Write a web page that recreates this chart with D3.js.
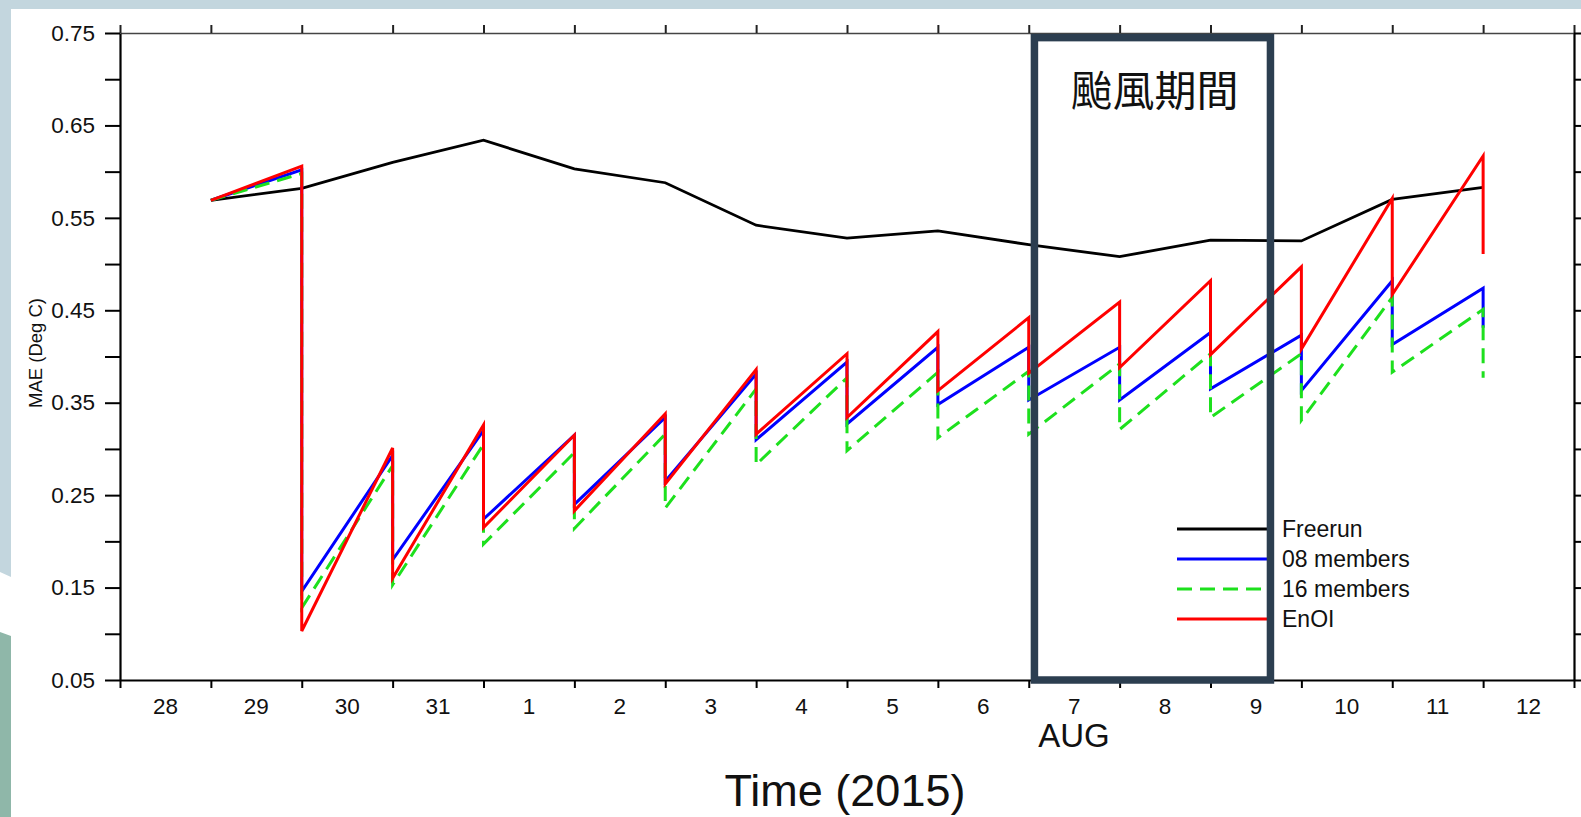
<!DOCTYPE html>
<html>
<head>
<meta charset="utf-8">
<script src="https://cdn.jsdelivr.net/npm/d3@7"></script>
<style>
body { margin:0; background:#fff; }
svg text { font-family: "Liberation Sans", Arial, sans-serif; fill:#111; }
</style>
</head>
<body>
<div id="vis"></div>
<script>
// values (daily, 00 UTC)
var days = ["2015-07-29","2015-07-30","2015-07-31","2015-08-01","2015-08-02","2015-08-03","2015-08-04",
            "2015-08-05","2015-08-06","2015-08-07","2015-08-08","2015-08-09","2015-08-10","2015-08-11","2015-08-12"];
var dayLabels = ["28","29","30","31","1","2","3","4","5","6","7","8","9","10","11","12"];

var freerun = [0.569,0.582,0.610,0.634,0.603,0.588,0.542,0.528,0.536,0.521,0.508,0.526,0.525,0.570,0.583];

// forecast (before analysis) and analysis (after) for each day
var m08Fc  = [0.569,0.602,0.293,0.320,0.315,0.334,0.381,0.394,0.410,0.410,0.410,0.426,0.423,0.482,0.474];
var m08An  = [0.569,0.146,0.180,0.224,0.240,0.265,0.310,0.327,0.348,0.353,0.353,0.365,0.363,0.413,0.431];
var m16Fc  = [0.569,0.598,0.282,0.305,0.296,0.316,0.365,0.377,0.383,0.384,0.392,0.403,0.403,0.464,0.451];
var m16An  = [0.569,0.128,0.153,0.197,0.214,0.236,0.283,0.298,0.312,0.316,0.321,0.334,0.331,0.383,0.377];
var enoiFc = [0.569,0.606,0.301,0.326,0.315,0.338,0.386,0.403,0.427,0.442,0.459,0.482,0.497,0.571,0.617];
var enoiAn = [0.569,0.103,0.160,0.215,0.233,0.262,0.316,0.334,0.363,0.382,0.388,0.402,0.408,0.467,0.511];

var seriesNames = ["Freerun","08 members","16 members","EnOI"];
var typhoon = ["2015-08-07T01:30:00Z","2015-08-09T15:50:00Z"];

var W = 1581, H = 817;
var parse = d3.utcParse("%Y-%m-%d");
var parseIso = d3.isoParse;

var svg = d3.select("#vis")
			.append("svg")
			.attr("width", W)
			.attr("height", H);

// slide background around the figure
svg.append("rect").attr("width", W).attr("height", H).attr("fill", "#fff");
svg.append("path").attr("d", "M0,0H1581V9H11V577L0,572Z").attr("fill", "#c3d6de");
svg.append("path").attr("d", "M0,632L11,636V817H0Z").attr("fill", "#8fb7a9");

var x = d3.scaleUtc()
	.domain([parse("2015-07-28"), parse("2015-08-13")])
	.range([120, 1574]);

var y = d3.scaleLinear()
	.domain([0.05, 0.75])
	.range([680, 33]);

var dayTicks = d3.utcDay.range(parse("2015-07-28"), d3.utcDay.offset(parse("2015-08-13"), 1));
var yTicks = d3.range(1, 16).map(function(i) { return +(i * 0.05).toFixed(2); });

// axes
var gBottom = svg.append("g").attr("transform", "translate(0,680)")
	.call(d3.axisBottom(x).tickValues(dayTicks).tickSize(8).tickSizeOuter(0).tickFormat(""));
var gTop = svg.append("g").attr("transform", "translate(0,33)")
	.call(d3.axisTop(x).tickValues(dayTicks).tickSize(8).tickSizeOuter(0).tickFormat(""));
var gLeft = svg.append("g").attr("transform", "translate(120,0)")
	.call(d3.axisLeft(y).tickValues(yTicks).tickSize(15).tickSizeOuter(0).tickPadding(10)
		.tickFormat(function(d) { return Math.round(d * 100) % 10 == 5 ? d3.format(".2f")(d) : ""; }));
var gRight = svg.append("g").attr("transform", "translate(1574,0)")
	.call(d3.axisRight(y).tickValues(yTicks).tickSize(7).tickSizeOuter(0).tickFormat(""));

[gBottom, gLeft, gRight].forEach(function(g) {
	g.select(".domain").attr("stroke", "#000").attr("stroke-width", 2.2);
	g.selectAll(".tick line").attr("stroke", "#000").attr("stroke-width", 2);
});
gTop.select(".domain").attr("stroke", "#444").attr("stroke-width", 1.6);
gTop.selectAll(".tick line").attr("stroke", "#222").attr("stroke-width", 2);

gLeft.selectAll(".tick text")
	.attr("font-size", "22.5px")
	.attr("font-family", "Liberation Sans, Arial, sans-serif")
	.attr("fill", "#111");

// day labels sit in the middle of each day
svg.append("g").selectAll("text")
	.data(dayLabels)
	.enter()
	.append("text")
	.attr("x", function(d, i) { return x(d3.utcHour.offset(dayTicks[i], 12)); })
	.attr("y", 714)
	.attr("text-anchor", "middle")
	.attr("font-size", "22.5px")
	.text(function(d) { return d; });

// build sawtooth series: forecast then analysis at each day
function sawtooth(fc, an) {
	var pts = [];
	days.forEach(function(d, i) {
		pts.push({date: parse(d), value: fc[i]});
		pts.push({date: parse(d), value: an[i]});
	});
	return pts;
}

var series = [
	{name: seriesNames[0], color: "#000", dash: null, width: 2.8,
	 values: days.map(function(d, i) { return {date: parse(d), value: freerun[i]}; })},
	{name: seriesNames[1], color: "#0000ff", dash: null, width: 3, values: sawtooth(m08Fc, m08An)},
	{name: seriesNames[2], color: "#1de01d", dash: "15,8", width: 3, values: sawtooth(m16Fc, m16An)},
	{name: seriesNames[3], color: "#ff0000", dash: null, width: 3, values: sawtooth(enoiFc, enoiAn)}
];

var line = d3.line()
	.x(function(d) { return x(d.date); })
	.y(function(d) { return y(d.value); });

svg.append("g").selectAll("path")
	.data(series)
	.enter()
	.append("path")
	.attr("d", function(d) { return line(d.values); })
	.attr("fill", "none")
	.attr("stroke", function(d) { return d.color; })
	.attr("stroke-width", function(d) { return d.width; })
	.attr("stroke-dasharray", function(d) { return d.dash; })
	.attr("stroke-linejoin", "miter");

// legend
var legend = svg.append("g").attr("class", "legend");
var leg = legend.selectAll("g")
	.data(series)
	.enter()
	.append("g")
	.attr("transform", function(d, i) { return "translate(0," + (529 + i * 30) + ")"; });
leg.append("line")
	.attr("x1", 1177).attr("x2", 1268)
	.attr("stroke", function(d) { return d.color; })
	.attr("stroke-width", 3)
	.attr("stroke-dasharray", function(d) { return d.dash; });
leg.append("text")
	.attr("x", 1282)
	.attr("y", 7.5)
	.attr("font-size", "23px")
	.text(function(d) { return d.name; });

// typhoon period box
var bx0 = x(parseIso(typhoon[0])), bx1 = x(parseIso(typhoon[1]));
svg.append("rect")
	.attr("x", bx0)
	.attr("y", y(0.745))
	.attr("width", bx1 - bx0)
	.attr("height", y(0.05) - y(0.745))
	.attr("fill", "none")
	.attr("stroke", "#2c3e50")
	.attr("stroke-width", 7.5);
svg.append("text")
	.attr("x", (bx0 + bx1) / 2 + 2)
	.attr("y", 106)
	.attr("text-anchor", "middle")
	.attr("font-size", "42px")
	.style("font-family", "'Noto Sans CJK TC', 'Noto Sans CJK SC', sans-serif")
	.text("颱風期間");

// axis titles
svg.append("text")
	.attr("transform", "translate(42,353) rotate(-90)")
	.attr("text-anchor", "middle")
	.attr("font-size", "18.5px")
	.text("MAE (Deg C)");
svg.append("text")
	.attr("x", 1074)
	.attr("y", 747)
	.attr("text-anchor", "middle")
	.attr("font-size", "33px")
	.text("AUG");
svg.append("text")
	.attr("x", 845)
	.attr("y", 806)
	.attr("text-anchor", "middle")
	.attr("font-size", "45px")
	.text("Time (2015)");
</script>
</body>
</html>
